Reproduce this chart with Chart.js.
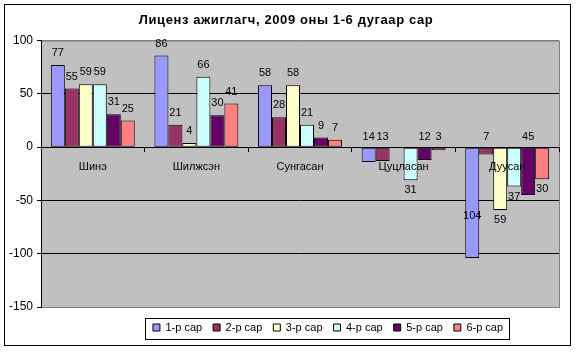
<!DOCTYPE html>
<html>
<head>
<meta charset="utf-8">
<script src="https://cdn.jsdelivr.net/npm/chart.js@4"></script>
<style>
  html, body { margin: 0; padding: 0; background: #fff; }
  #wrap { width: 577px; height: 352px; }
</style>
</head>
<body>
<div id="wrap"><canvas id="licenseChart"></canvas></div>
<script>
const categories = ['Шинэ', 'Шилжсэн', 'Сунгасан', 'Цуцласан', 'Дуусан'];
const seriesNames = ['1-р сар', '2-р сар', '3-р сар', '4-р сар', '5-р сар', '6-р сар'];
const month1 = [77, 86, 58, -14, -104];
const month2 = [55, 21, 28, -13, -7];
const month3 = [59, 4, 58, 0, -59];
const month4 = [59, 66, 21, -31, -37];
const month5 = [31, 30, 9, -12, -45];
const month6 = [25, 41, 7, -3, -30];
const yTicks = [-150, -100, -50, 0, 50, 100];

const colors = ['#9999FF', '#993366', '#FFFFCC', '#CCFFFF', '#660066', '#FF8080'];
// labels that Excel put just above the zero line / inside the bar
const labelAtAxis = ['3-0', '3-1', '3-4', '3-5', '4-1', '4-4'];
const labelInside = ['4-0'];
const font = '"Liberation Sans", Arial, sans-serif';

const data = {
  labels: categories,
  datasets: [month1, month2, month3, month4, month5, month6].map((vals, i) => ({
    label: seriesNames[i],
    data: vals,
    backgroundColor: colors[i],
    borderColor: '#000',
    borderWidth: 1,
    borderSkipped: false
  }))
};

const frame = {
  id: 'frame',
  beforeDraw(chart) {
    const {ctx, chartArea: a} = chart;
    ctx.save();
    ctx.fillStyle = '#fff';
    ctx.fillRect(0, 0, chart.width, chart.height);
    ctx.fillStyle = '#C0C0C0';
    ctx.fillRect(a.left, a.top, a.right - a.left, a.bottom - a.top);
    ctx.strokeStyle = '#808080';
    ctx.lineWidth = 1;
    ctx.strokeRect(a.left + 0.5, a.top + 0.5, a.right - a.left, a.bottom - a.top);
    ctx.restore();
  },
  afterLayout(chart) {
    const lg = chart.legend;
    const shift = 328 - (lg.left + lg.right) / 2;
    lg.left += shift;
    lg.right += shift;
    lg.top += 4;
    lg.bottom += 4;
    const tb = chart.titleBlock;
    const tshift = 286 - (tb.left + tb.right) / 2;
    tb.left += tshift;
    tb.right += tshift;
    if (!tb._spaced) {
      const origDraw = tb.draw;
      tb.draw = function(area) {
        const c = this.ctx;
        c.save();
        c.letterSpacing = '0.6px';
        origDraw.call(this, area);
        c.restore();
      };
      tb._spaced = true;
    }
  },
  afterDraw(chart) {
    const {ctx} = chart;
    const lg = chart.legend;
    const pad = lg.options.labels.padding;
    const w = lg.lineWidths[0] - pad;
    const cx = (lg.left + lg.right) / 2;
    const cy = lg.top + pad + 6;
    ctx.save();
    ctx.strokeStyle = '#000';
    ctx.lineWidth = 1;
    ctx.strokeRect(Math.round(cx - w / 2 - 8) + 0.5, Math.round(cy - 10.5) + 0.5, Math.round(w + 14), 21);
    ctx.strokeRect(4.5, 4.5, 566, 341);
    ctx.restore();
  }
};

const valueLabels = {
  id: 'valueLabels',
  afterDatasetsDraw(chart) {
    const {ctx} = chart;
    const zero = chart.scales.y.getPixelForValue(0);
    ctx.save();
    ctx.font = '11px ' + font;
    ctx.fillStyle = '#000';
    ctx.textAlign = 'center';
    ctx.textBaseline = 'middle';
    chart.data.datasets.forEach((ds, si) => {
      chart.getDatasetMeta(si).data.forEach((bar, ci) => {
        const v = ds.data[ci];
        if (v === 0) return;
        const key = ci + '-' + si;
        let y;
        if (v > 0) y = bar.y - 12;
        else if (labelAtAxis.includes(key)) y = zero - 10;
        else if (labelInside.includes(key)) y = bar.y - 42;
        else y = bar.y + 10;
        ctx.fillText(String(Math.abs(v)), bar.x, y);
      });
    });
    ctx.restore();
  }
};

Chart.defaults.font.family = font;
Chart.defaults.color = '#000';

new Chart(document.getElementById('licenseChart'), {
  type: 'bar',
  data: data,
  plugins: [frame, valueLabels],
  options: {
    responsive: true,
    maintainAspectRatio: false,
    animation: false,
    layout: { padding: { left: 0, right: 18, top: 0, bottom: 13 } },
    datasets: { bar: { barPercentage: 1, categoryPercentage: 0.81 } },
    scales: {
      y: {
        min: -150,
        max: 100,
        afterBuildTicks(scale) { scale.ticks = yTicks.map(v => ({ value: v })); },
        afterFit(scale) { scale.width = 41; },
        ticks: { font: { size: 12 }, padding: 4, color: '#000' },
        grid: {
          color: ctx => (ctx.tick && (ctx.tick.value === 100 || ctx.tick.value === -150)) ? '#808080' : '#000',
          tickColor: '#000',
          tickLength: 4
        },
        border: { color: '#000' }
      },
      x: {
        position: { y: 0 },
        ticks: { font: { size: 11 }, padding: 9, maxRotation: 0, autoSkip: false, color: '#000', z: 1 },
        grid: { drawOnChartArea: false, tickLength: 4, tickColor: '#000', offset: true },
        border: { color: '#000' }
      }
    },
    plugins: {
      title: {
        display: true,
        text: 'Лиценз ажиглагч, 2009 оны 1-6 дугаар сар',
        font: { size: 13, weight: 'bold' },
        color: '#000',
        padding: { top: 13, bottom: 12 }
      },
      legend: {
        position: 'bottom',
        labels: { boxWidth: 7, boxHeight: 7, padding: 11, font: { size: 11 }, color: '#000' }
      },
      tooltip: { enabled: false }
    }
  }
});
</script>
</body>
</html>
